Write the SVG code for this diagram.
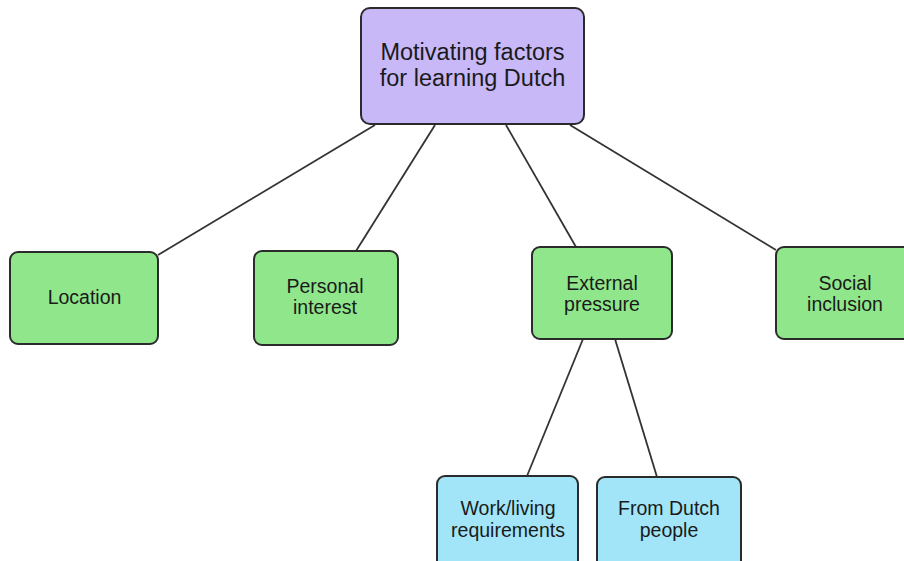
<svg xmlns="http://www.w3.org/2000/svg" width="904" height="561" viewBox="0 0 904 561">
  <style>
    .box { stroke: #2b2b2b; stroke-width: 2; }
    .root { fill: #c8b8f8; }
    .factor { fill: #90e78b; }
    .sub { fill: #a2e5f8; }
    .lbl { font-family: "Liberation Sans", Arial, sans-serif; fill: #1a1a1a; text-anchor: middle; }
    .big { font-size: 23.5px; }
    .small { font-size: 19.5px; }
    .link { stroke: #333333; stroke-width: 1.8; fill: none; }
  </style>
  <rect width="904" height="561" fill="#ffffff"/>

  <g id="connectors">
    <line class="link" x1="375" y1="125" x2="158" y2="255"/>
    <line class="link" x1="435" y1="125" x2="356" y2="251"/>
    <line class="link" x1="506" y1="125" x2="576" y2="247"/>
    <line class="link" x1="570" y1="125" x2="776" y2="250"/>
    <line class="link" x1="583" y1="339" x2="527" y2="476"/>
    <line class="link" x1="615" y1="339" x2="657" y2="477"/>
  </g>

  <g id="motivating-factors">
    <rect class="box root" x="361" y="8" width="223" height="116" rx="9"/>
    <text class="lbl big" x="472.5" y="60">Motivating factors</text>
    <text class="lbl big" x="472.5" y="86">for learning Dutch</text>
  </g>

  <g id="location">
    <rect class="box factor" x="10" y="252" width="148" height="92" rx="8"/>
    <text class="lbl small" x="84.5" y="304">Location</text>
  </g>

  <g id="personal-interest">
    <rect class="box factor" x="254" y="251" width="144" height="94" rx="8"/>
    <text class="lbl small" x="325" y="293">Personal</text>
    <text class="lbl small" x="325" y="314">interest</text>
  </g>

  <g id="external-pressure">
    <rect class="box factor" x="532" y="247" width="140" height="92" rx="8"/>
    <text class="lbl small" x="602" y="290">External</text>
    <text class="lbl small" x="602" y="311">pressure</text>
  </g>

  <g id="social-inclusion">
    <rect class="box factor" x="776" y="247" width="140" height="92" rx="8"/>
    <text class="lbl small" x="845" y="290">Social</text>
    <text class="lbl small" x="845" y="311">inclusion</text>
  </g>

  <g id="work-living-requirements">
    <rect class="box sub" x="437" y="476" width="141" height="100" rx="8"/>
    <text class="lbl small" x="508" y="515">Work/living</text>
    <text class="lbl small" x="508" y="537">requirements</text>
  </g>

  <g id="from-dutch-people">
    <rect class="box sub" x="597" y="477" width="144" height="100" rx="8"/>
    <text class="lbl small" x="669" y="515">From Dutch</text>
    <text class="lbl small" x="669" y="537">people</text>
  </g>
</svg>
